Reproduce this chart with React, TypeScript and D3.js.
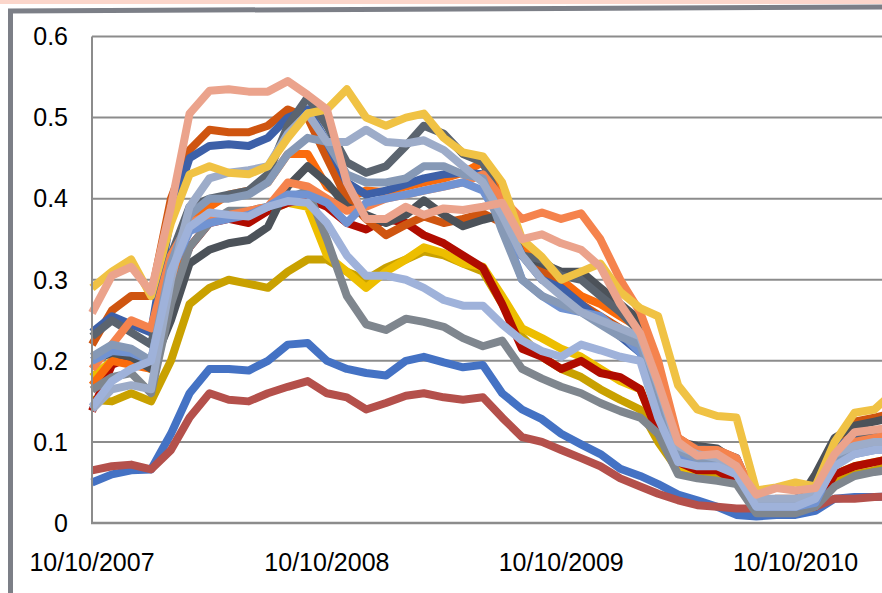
import * as d3 from 'd3';

// monthly observation dates (category axis)
const dates = [
  '2007-10-10', '2007-11-10', '2007-12-10', '2008-01-10', '2008-02-10', '2008-03-10',
  '2008-04-10', '2008-05-10', '2008-06-10', '2008-07-10', '2008-08-10', '2008-09-10',
  '2008-10-10', '2008-11-10', '2008-12-10', '2009-01-10', '2009-02-10', '2009-03-10',
  '2009-04-10', '2009-05-10', '2009-06-10', '2009-07-10', '2009-08-10', '2009-09-10',
  '2009-10-10', '2009-11-10', '2009-12-10', '2010-01-10', '2010-02-10', '2010-03-10',
  '2010-04-10', '2010-05-10', '2010-06-10', '2010-07-10', '2010-08-10', '2010-09-10',
  '2010-10-10', '2010-11-10', '2010-12-10', '2011-01-10', '2011-02-10', '2011-03-10',
];

const xTickLabels = ['10/10/2007', '10/10/2008', '10/10/2009', '10/10/2010'];
const yTicks = [0, 0.1, 0.2, 0.3, 0.4, 0.5, 0.6];

const blueLow = [0.05, 0.06, 0.065, 0.066, 0.11, 0.16, 0.19, 0.19, 0.188, 0.2, 0.22, 0.222, 0.2, 0.19, 0.185, 0.182, 0.2, 0.205, 0.198, 0.192, 0.195, 0.16, 0.14, 0.128, 0.11, 0.097, 0.085, 0.067, 0.058, 0.048, 0.035, 0.028, 0.02, 0.01, 0.008, 0.01, 0.01, 0.015, 0.03, 0.032, 0.032, 0.033];
const redLow = [0.065, 0.07, 0.072, 0.066, 0.09, 0.13, 0.16, 0.152, 0.15, 0.16, 0.168, 0.175, 0.16, 0.155, 0.14, 0.148, 0.157, 0.16, 0.155, 0.152, 0.155, 0.13, 0.106, 0.1, 0.09, 0.08, 0.07, 0.055, 0.045, 0.036, 0.028, 0.022, 0.02, 0.018, 0.018, 0.018, 0.018, 0.02, 0.03, 0.03, 0.032, 0.033];
const gold = [0.152, 0.15, 0.16, 0.15, 0.2, 0.27, 0.29, 0.3, 0.295, 0.29, 0.31, 0.325, 0.325, 0.31, 0.3, 0.315, 0.325, 0.335, 0.33, 0.32, 0.31, 0.27, 0.23, 0.205, 0.19, 0.18, 0.165, 0.152, 0.14, 0.1, 0.065, 0.06, 0.058, 0.05, 0.02, 0.02, 0.022, 0.03, 0.05, 0.06, 0.065, 0.072];
const yellow2 = [0.18, 0.2, 0.2, 0.19, 0.3, 0.37, 0.38, 0.38, 0.38, 0.385, 0.395, 0.39, 0.33, 0.31, 0.29, 0.31, 0.325, 0.34, 0.333, 0.32, 0.316, 0.28, 0.24, 0.228, 0.215, 0.205, 0.19, 0.175, 0.165, 0.11, 0.07, 0.065, 0.066, 0.06, 0.02, 0.02, 0.02, 0.025, 0.06, 0.07, 0.075, 0.08];
const darkRed = [0.138, 0.195, 0.205, 0.195, 0.29, 0.34, 0.37, 0.375, 0.37, 0.385, 0.395, 0.4, 0.39, 0.37, 0.362, 0.375, 0.37, 0.355, 0.345, 0.33, 0.315, 0.27, 0.215, 0.205, 0.19, 0.2, 0.185, 0.18, 0.165, 0.11, 0.075, 0.065, 0.065, 0.05, 0.015, 0.015, 0.015, 0.02, 0.06, 0.07, 0.075, 0.08];
const orange = [0.17, 0.2, 0.195, 0.19, 0.3, 0.37, 0.39, 0.405, 0.41, 0.42, 0.455, 0.455, 0.415, 0.4, 0.41, 0.408, 0.415, 0.42, 0.425, 0.432, 0.445, 0.4, 0.34, 0.32, 0.3, 0.28, 0.27, 0.255, 0.24, 0.18, 0.1, 0.085, 0.085, 0.07, 0.02, 0.02, 0.02, 0.03, 0.085, 0.1, 0.11, 0.115];
const darkOrange = [0.22, 0.262, 0.28, 0.28, 0.4, 0.46, 0.485, 0.482, 0.482, 0.49, 0.51, 0.5, 0.45, 0.4, 0.375, 0.355, 0.368, 0.378, 0.37, 0.375, 0.382, 0.37, 0.33, 0.31, 0.29, 0.27, 0.255, 0.24, 0.22, 0.17, 0.105, 0.09, 0.09, 0.08, 0.025, 0.03, 0.03, 0.035, 0.1, 0.125, 0.13, 0.135];
const blueDark = [0.235, 0.255, 0.245, 0.235, 0.38, 0.45, 0.465, 0.467, 0.465, 0.475, 0.5, 0.51, 0.47, 0.42, 0.405, 0.41, 0.418, 0.425, 0.43, 0.432, 0.43, 0.37, 0.33, 0.3, 0.29, 0.27, 0.25, 0.23, 0.21, 0.16, 0.1, 0.09, 0.088, 0.08, 0.025, 0.028, 0.03, 0.035, 0.095, 0.105, 0.11, 0.115];
const charcoal = [0.2, 0.21, 0.205, 0.19, 0.25, 0.32, 0.337, 0.345, 0.349, 0.365, 0.415, 0.44, 0.42, 0.39, 0.38, 0.37, 0.38, 0.398, 0.38, 0.366, 0.374, 0.38, 0.33, 0.32, 0.31, 0.31, 0.29, 0.27, 0.25, 0.18, 0.1, 0.095, 0.092, 0.075, 0.022, 0.022, 0.022, 0.06, 0.105, 0.12, 0.125, 0.13];
const darkGray = [0.23, 0.25, 0.235, 0.22, 0.33, 0.39, 0.4, 0.405, 0.41, 0.43, 0.49, 0.525, 0.49, 0.445, 0.432, 0.44, 0.465, 0.49, 0.48, 0.455, 0.445, 0.39, 0.33, 0.325, 0.305, 0.3, 0.28, 0.26, 0.235, 0.17, 0.1, 0.092, 0.09, 0.07, 0.02, 0.02, 0.02, 0.025, 0.085, 0.1, 0.11, 0.115];
const gray = [0.164, 0.18, 0.185, 0.16, 0.27, 0.34, 0.37, 0.385, 0.385, 0.39, 0.4, 0.41, 0.35, 0.28, 0.245, 0.238, 0.252, 0.248, 0.242, 0.228, 0.218, 0.225, 0.19, 0.178, 0.168, 0.16, 0.148, 0.138, 0.13, 0.11, 0.06, 0.055, 0.052, 0.048, 0.012, 0.012, 0.012, 0.02, 0.045, 0.058, 0.063, 0.066];
const coral = [0.19, 0.22, 0.25, 0.24, 0.33, 0.37, 0.38, 0.38, 0.385, 0.39, 0.42, 0.415, 0.4, 0.385, 0.39, 0.4, 0.405, 0.41, 0.415, 0.42, 0.43, 0.4, 0.375, 0.383, 0.375, 0.382, 0.35, 0.3, 0.26, 0.2, 0.105, 0.09, 0.09, 0.08, 0.028, 0.028, 0.028, 0.035, 0.085, 0.1, 0.105, 0.11];
const medBlue = [0.2, 0.212, 0.21, 0.2, 0.31, 0.36, 0.37, 0.375, 0.38, 0.39, 0.405, 0.405, 0.395, 0.37, 0.395, 0.4, 0.405, 0.41, 0.415, 0.42, 0.41, 0.37, 0.3, 0.28, 0.265, 0.26, 0.255, 0.235, 0.21, 0.15, 0.085, 0.075, 0.075, 0.065, 0.02, 0.02, 0.02, 0.025, 0.075, 0.085, 0.09, 0.09];
const slate = [0.205, 0.22, 0.215, 0.2, 0.32, 0.38, 0.4, 0.4, 0.405, 0.42, 0.455, 0.475, 0.47, 0.43, 0.42, 0.42, 0.425, 0.44, 0.44, 0.43, 0.425, 0.36, 0.3, 0.28, 0.27, 0.26, 0.245, 0.23, 0.22, 0.16, 0.09, 0.08, 0.08, 0.065, 0.025, 0.025, 0.025, 0.03, 0.08, 0.09, 0.095, 0.1];
const lightSteel = [0.14, 0.165, 0.17, 0.165, 0.3, 0.39, 0.425, 0.432, 0.435, 0.44, 0.48, 0.505, 0.47, 0.47, 0.485, 0.47, 0.468, 0.472, 0.46, 0.44, 0.42, 0.38, 0.33, 0.3, 0.28, 0.26, 0.25, 0.24, 0.23, 0.17, 0.095, 0.085, 0.08, 0.07, 0.03, 0.03, 0.03, 0.035, 0.085, 0.095, 0.1, 0.1];
const periwinkle = [0.143, 0.175, 0.19, 0.2, 0.31, 0.365, 0.383, 0.38, 0.378, 0.39, 0.397, 0.395, 0.37, 0.33, 0.305, 0.305, 0.3, 0.29, 0.275, 0.268, 0.268, 0.245, 0.225, 0.212, 0.205, 0.22, 0.213, 0.205, 0.2, 0.13, 0.075, 0.07, 0.07, 0.06, 0.02, 0.02, 0.02, 0.03, 0.07, 0.085, 0.09, 0.09];
const yellow = [0.29, 0.31, 0.325, 0.28, 0.37, 0.43, 0.44, 0.432, 0.43, 0.44, 0.475, 0.505, 0.51, 0.535, 0.5, 0.49, 0.5, 0.505, 0.475, 0.457, 0.452, 0.42, 0.35, 0.328, 0.3, 0.31, 0.32, 0.285, 0.265, 0.255, 0.17, 0.14, 0.132, 0.13, 0.04, 0.044, 0.05, 0.045, 0.1, 0.136, 0.14, 0.16];
const salmon = [0.259, 0.305, 0.316, 0.285, 0.39, 0.505, 0.533, 0.535, 0.532, 0.532, 0.545, 0.528, 0.51, 0.42, 0.375, 0.375, 0.39, 0.38, 0.388, 0.386, 0.39, 0.395, 0.35, 0.356, 0.345, 0.337, 0.316, 0.27, 0.234, 0.173, 0.1, 0.083, 0.085, 0.07, 0.035, 0.043, 0.04, 0.043, 0.085, 0.112, 0.115, 0.118];

// drawing order: first is at the bottom
const series: [number[], string][] = [
  [blueLow, '#4472c4'],
  [redLow, '#b4504b'],
  [gold, '#c9a100'],
  [yellow2, '#edbe00'],
  [darkRed, '#b00c00'],
  [orange, '#fa6b0c'],
  [darkOrange, '#cf5510'],
  [blueDark, '#3d60a8'],
  [charcoal, '#4c5259'],
  [darkGray, '#5b646f'],
  [gray, '#7f868e'],
  [coral, '#f5834d'],
  [medBlue, '#7193d2'],
  [slate, '#8699b6'],
  [lightSteel, '#9dacc9'],
  [periwinkle, '#9fb2da'],
  [yellow, '#f0c244'],
  [salmon, '#eba38c'],
];

const W = 882;
const H = 593;
const FONT = "'Liberation Sans', Arial, sans-serif";

export default function App() {
  const parse = d3.timeParse('%Y-%m-%d');
  const xs = dates.map(d => parse(d) as Date);
  const xScale = d3.scaleTime()
    .domain([parse('2007-10-10') as Date, parse('2010-10-10') as Date])
    .range([92, 795.5]);
  const yScale = d3.scaleLinear([0, 0.6], [523, 36.5]);
  const tickDates = xTickLabels.map(l => d3.timeParse('%m/%d/%Y')(l) as Date);

  const line = d3.line<number>()
    .x((_, i) => xScale(xs[i]))
    .y(d => yScale(d));

  return (
    <svg width={W} height={H} style={{ position: 'absolute', left: 0, top: 0, background: '#fff' }}>
      <rect x={0} y={0} width={W} height={4} fill="#fbd6cb" />
      <path d={`M10.5,${H} L10.5,11 L${W},7`} fill="none" stroke="#7c7f87" strokeWidth={5} />

      {yTicks.filter(t => t > 0).map(t => (
        <line key={t} x1={92} x2={W} y1={yScale(t)} y2={yScale(t)} stroke="#8c8c8c" strokeWidth={2} />
      ))}

      {series.map(([vals, color], k) => (
        <path key={k} d={line(vals) ?? ''} fill="none" stroke={color} strokeWidth={8}
          strokeLinejoin="round" strokeLinecap="butt" />
      ))}

      <line x1={92} x2={92} y1={yScale(0.6)} y2={yScale(0)} stroke="#8c8c8c" strokeWidth={2} />
      <line x1={91} x2={W} y1={yScale(0)} y2={yScale(0)} stroke="#8c8c8c" strokeWidth={2.5} />

      {yTicks.map(t => (
        <text key={t} x={68} y={yScale(t)} dy="0.35em" textAnchor="end"
          fontFamily={FONT} fontSize={25} fill="#000">{t === 0 ? '0' : t.toFixed(1)}</text>
      ))}
      {tickDates.map((d, i) => (
        <text key={i} x={xScale(d)} y={571} textAnchor="middle"
          fontFamily={FONT} fontSize={25} fill="#000">{xTickLabels[i]}</text>
      ))}
    </svg>
  );
}
